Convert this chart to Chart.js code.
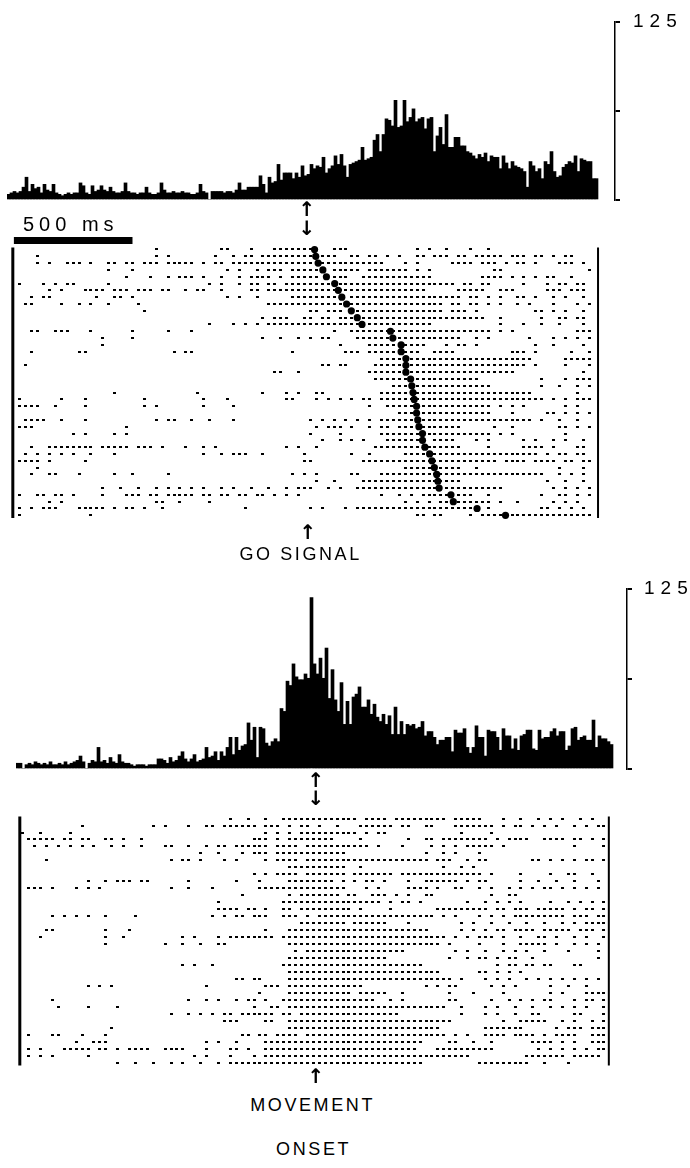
<!DOCTYPE html>
<html><head><meta charset="utf-8">
<script src="https://cdn.jsdelivr.net/npm/chart.js@4/dist/chart.umd.min.js"></script>
<style>
html,body{margin:0;padding:0;background:#fff;}
body{width:690px;height:1168px;position:relative;overflow:hidden;font-family:"Liberation Sans",Arial,sans-serif;color:#000;}
canvas{position:absolute;left:0;}
.lbl{position:absolute;white-space:nowrap;line-height:1;}
.ctr{width:240px;text-align:center;}
.arr{position:absolute;width:24px;text-align:center;font-family:"DejaVu Sans";font-weight:bold;font-size:20px;line-height:20px;}
</style></head><body>
<canvas id="histGo" width="690" height="230" style="top:-4px"></canvas>
<canvas id="rasterGo" width="690" height="305" style="top:226px"></canvas>
<canvas id="histMove" width="690" height="232" style="top:563px"></canvas>
<canvas id="rasterMove" width="690" height="272" style="top:800px"></canvas>
<div id="lblBar" class="lbl" style="left:23px;top:214px;font-size:20px;letter-spacing:5px;"></div>
<div id="lblGo" class="lbl ctr" style="left:178px;top:545px;font-size:18px;letter-spacing:2.6px;padding-left:2.6px;"></div>
<div id="lblMove1" class="lbl ctr" style="left:190px;top:1096px;font-size:18px;letter-spacing:2.6px;padding-left:2.6px;"></div>
<div id="lblMove2" class="lbl ctr" style="left:191px;top:1140px;font-size:18px;letter-spacing:2.6px;padding-left:2.6px;"></div>
<div class="arr" style="left:295px;top:199px">↑</div>
<div class="arr" style="left:295px;top:218px">↓</div>
<div class="arr" style="left:296px;top:522px">↑</div>
<div class="arr" style="left:304px;top:770px">↑</div>
<div class="arr" style="left:304px;top:788px">↓</div>
<div class="arr" style="left:304px;top:1066px">↑</div>
<script>
// ---------- data ----------
const binMs = 12.5;            // histogram bin width
const histStartMs = -1250;     // first bin start, relative to event
const cellMs = 25;             // raster cell width
const rasterStartMs = -1250;
const scaleTicks = [0, 62.5, 125];
const scaleMax = 125;
const scaleBarMs = [-1237.5, -737.5];
const scaleBarText = '500 ms';
const goText = 'GO SIGNAL';
const moveText = ['MOVEMENT', 'ONSET'];
const goFrameMs = [-1242, 1225];
const moveFrameMs = [-1250, 1233];

const histGoCounts = [
4,5,6,5,6,9,16,6,11,8, 9,5,11,7,6,11,5,4,3,4, 5,4,5,5,12,10,5,4,10,6, 7,10,7,6,9,6,5,5,6,12,
6,5,5,4,5,5,9,5,4,4, 5,12,7,5,5,6,5,5,6,5, 5,4,4,5,11,6,5,0,6,6, 6,6,5,6,6,5,7,12,7,7,
9,9,9,9,17,11,5,16,12,13, 25,14,19,19,19,15,19,16,24,17, 18,25,22,24,23,30,19,22,24,31,
25,32,24,16,25,26,27,28,37,28, 29,30,42,46,34,46,57,56,52,70, 51,52,70,55,58,64,55,57,58,50,
57,58,34,45,51,39,60,37,37,44, 44,38,38,34,33,31,29,32,30,33, 27,31,30,30,22,31,26,22,27,24,
23,22,20,9,27,24,20,22,15,27, 25,34,20,16,17,23,25,27,26,31, 20,29,28,27,27,15,15];

const histMoveCounts = [
4,4,0,3,4,3,5,4,3,4, 3,5,3,3,4,3,5,3,4,5, 6,9,5,0,4,6,5,15,5,6, 4,8,5,4,10,5,4,4,3,2,
3,3,3,2,3,3,3,7,7,6, 4,8,5,6,9,12,7,5,7,10, 5,6,7,15,8,9,12,6,12,9, 15,22,10,22,13,16,17,32,20,29,
8,29,28,18,16,19,21,19,42,40, 61,58,73,64,62,62,66,63,119,73, 66,77,63,84,49,69,48,40,60,31,
47,31,50,52,57,43,43,48,38,45, 36,33,38,31,37,24,43,24,33,24, 31,30,31,28,29,33,23,26,26,22,
17,20,20,22,22,12,27,25,25,28, 15,11,15,30,22,22,9,27,26,26, 22,13,28,23,23,14,21,13,23,24,
27,27,14,13,27,21,22,22,26,28, 23,26,26,13,16,28,29,20,22,23, 20,20,34,15,23,21,21,19,17];

const moveOnsetMs = [30,35,45,65,80,115,130,145,165,185,210,230,350,360,395,395,415,415,415,435,
440,445,450,460,460,465,470,485,485,495,515,525,535,545,550,555,605,615,715,835];

const rasterGoRows = [
"0000000000 0000000000 0000100000 0000011000 1000111111 1000111000 0000000010 1001000100 1000000000 00000000",
"0000100000 0000000000 0000101000 0000100101 1011111111 1011100110 1101010011 0111011011 1110111011 01011000",
"0000101001 1101001101 1011101111 1010110111 1111111111 1011111111 1110001010 0000111101 1101011010 00111010",
"0000000000 0000001000 1000000000 0000001010 0101110111 1100111110 1111111010 1000000000 0110000000 00000001",
"0000000000 0000000001 0001001011 1010010010 1111010111 1100111001 1111111111 1000000001 1110101010 11001000",
"0100010101 1000001000 0000000000 0001010010 1101101111 1111111111 1111111111 1111101101 1000001000 10110110",
"0000001010 0011110111 0111011001 0110010000 1101111111 1111111111 1111111111 0000011111 0011100000 11101110",
"0001011000 0000100110 1000000000 0000001010 0100000111 1111110111 1111111111 1111110110 1010011010 01010010",
"0011000010 0101001000 0100000000 0000000000 0001111111 1111111111 1111111111 1110110110 1010010100 01000101",
"0000000000 0000000000 0010000000 0000000000 0000000000 1101110011 1111111111 1110111010 0000000011 01010010",
"0000000000 0000000000 0000000000 0000000000 0010111001 1011011101 1111111111 1111111111 0010000001 00110110",
"0000000000 0000000000 0000000000 0001000101 0101111111 1111111111 1111111111 1000000000 0010001001 00100010",
"0001100111 0001000000 1000001000 1000000000 0000000000 0000100111 1111111111 1111111111 1010100000 00000111",
"0000000000 0000010000 1000000000 0000000000 0010010010 1011000011 1111111111 1111110010 1000000100 01010101",
"0000000000 0000010000 0000000000 0000000000 0000000000 0000010000 1111111111 0001011010 0000000010 01000010",
"0001000000 0110000000 0000000101 1000000000 0000000100 0000001110 1111111110 0111100000 0000111010 00001001",
"0000000000 0000000000 0000000000 0000000000 0000000000 0000000000 0011111111 1111111111 1111111100 00011111",
"0010000000 0000000000 0000000000 0000000000 0000000000 0011011000 0111111111 1111111111 1111111010 00010001",
"0000000000 0000000000 0000000000 0000000000 0000110010 0000000000 1111111111 1111111111 1111100000 00000010",
"0000000000 0000000000 0000000000 0000000000 0000000000 0000000000 0111111111 1111111110 0000000001 00010111",
"0000000000 0000000000 0000000000 0000000000 0000000000 0000000000 0000111111 1111111111 1000000001 00100101",
"0000000000 0000000100 0000000000 0100000000 0010001010 0110000000 0011111111 1111111111 1111111100 00000100",
"0100000010 0010000000 0010000000 0010001000 0000001100 0101010101 1011111111 1111111111 1111111111 01010111",
"0111100100 0010000000 0010100000 0010000100 0000000000 0000000000 1001111111 1111111111 1010101000 00010100",
"0000000000 0000000000 0000000000 0000000000 0000000000 0000000000 0000011111 1111111111 1000100000 11010101",
"0011110010 0010000000 0000101100 1001000100 0000000000 1010101010 1011111111 1111111111 1111111101 00100100",
"0111000000 0000000001 0000000000 0000000000 0000000000 0101110100 1011011111 1111110000 0100100000 00110101",
"0000000000 1010000101 0000000000 0000000000 0000000000 1000010000 0011111111 1111111111 1010100000 00010000",
"0000000000 0000000000 0000000000 0000000000 0000000000 0010010101 0001111111 0111100010 1000001010 01010010",
"0001001111 1111011111 0111010001 0010100000 0000001010 0100000000 0111111111 1111110000 1000001111 01000110",
"0010101010 1001000100 0000000000 0010010111 0010000001 0000000100 1000001111 1111111111 1111111110 10110110",
"0111101000 0010000000 0000000000 0000000000 0000000001 1000000001 1111111111 1111111111 1101111011 11011011",
"0000100000 0000000000 0000000000 0000000000 0000000000 0000000000 0000001111 1111110010 0000000000 00100010",
"0001001100 0100000100 1000001000 0000000000 0000000101 0100000110 0011111111 1111111111 1111111111 00101010",
"0000000000 0000000000 0000000000 0000000000 0000000000 0100100001 1111111111 1111110000 0000000000 10010010",
"0000000000 0000010010 0100101010 1010010100 1001001011 1001010011 1111111111 1111111111 1110000000 01010101",
"0100110110 1000010001 1101101111 1011011011 0110101010 0000000000 0010010101 1111011100 1000000001 00110101",
"0000001010 0000000000 0000110010 0001000000 0000000000 0000000000 0000001010 1011111111 1010010000 01010100",
"0101011100 0111110101 1010010000 0000000001 0000000000 1010001011 1111111111 1111111110 1000000001 10101010",
"0100000000 0001000000 0000000000 0000000000 0000000000 0000000000 0000000011 0110000101 1110111111 11111111"];

const rasterMoveRows = [
"0000000000 0000000000 0000000000 0000010010 0100111111 1111111011 1101111111 1101111100 0100100101 010010100",
"0000000000 1000000000 0010100010 0110111111 0111010110 1001000111 1110110011 0001111111 0101101010 100101011",
"1001000010 0000000000 0000000000 0000000000 0101010111 1111111010 1100000000 0000100001 0000000000 000000000",
"0111110110 1100110100 1000000000 0000000001 1101011111 1110000100 0000010011 0111111110 1011110011 110110101",
"0010101010 1010010100 1000110010 0101101111 1101111011 1111111110 1000100001 0101011111 0100000000 000100001",
"0000000000 0000000000 0000000000 1001000101 1101111111 1111100000 0000000010 0101000100 0000000000 000000000",
"0000100000 0000000000 0000010110 1000101000 0101111011 1111111111 1111111110 1110010110 0000001101 010101101",
"0000000000 0000000000 0000000000 0000000000 0000011111 1111100100 0000000000 0100101000 0000000000 000000000",
"0000000000 0000000000 0000000000 0000000001 0101111011 1111101111 1110111111 1111111101 0000100001 001100100",
"0000000000 0100101110 1100000010 0000001000 1000011111 1110101011 0100010011 1111010110 0000100100 100100010",
"0111010001 0101000000 0000010010 0010000000 1111111111 1111100010 1000011110 1001100101 0010101011 010101010",
"0000000000 0000000000 0000000000 0000000100 0000010111 1111011001 1101010011 0000000001 0011000000 000000000",
"0000000000 0000000000 0000000000 0001000000 0000111111 1111111111 1010110100 0000010010 1010100001 001010101",
"0000000000 0000000000 0000000000 0001111011 0100110111 1111110100 0010000000 1111111110 1101110111 110101101",
"0000010101 0100100001 0000000000 0010101101 1100111010 1111111111 1111111111 0101000101 0101111111 110111011",
"0000000000 0000000000 0000000000 0000000000 0000000111 1111101111 1100010000 0000101001 0010010010 010101111",
"0000110000 0000100010 0000000000 0000000000 0100011111 1111111111 1111111110 0000101010 1101111011 111011101",
"0001000000 0000100100 0000000101 0001011111 1110111111 1111111111 1111111111 1101010111 0100100110 100101001",
"0000000000 0000100000 0000100100 1001100000 0000011111 1111111111 1111111111 1010000100 0100111110 100101010",
"0000000000 0000000000 0000000000 0000000000 0000001011 1111111111 1111100000 0001010010 0101010010 001000010",
"0000000000 0000000000 0000000000 0000000000 0000011111 1111111111 1100000000 0010010110 1011001000 000000010",
"0000000000 0000000000 0000000101 0010000000 0000111111 1111111111 1111111100 0000000000 1011011011 000110000",
"0000000000 0000000000 0000000000 0000000000 0000011111 1111111111 1111111111 1000000110 1010100000 000000000",
"0000000000 0000000000 0000000000 0000001101 1000011111 1111111111 1111111111 1110100010 1010010101 010101010",
"0000000000 0101010000 0000000000 0100000000 0111011111 1111111100 0000000010 1011000001 0101000001 001001000",
"0000000000 0000000000 0000000000 0000000000 1000011111 1111110111 1100100000 0010001000 0100000001 010001111",
"0000010000 0000000000 0000000010 0101001011 0100111111 1111111111 0010100000 0011000001 0010101011 000101101",
"0000001000 0100001000 0000000000 0000000001 0011011111 1111111111 1111111111 1100100010 1001001001 010101001",
"0000000000 0000000000 0000010010 1010110111 1110110111 1111111111 1111000000 0000100010 1001001100 000110001",
"0000000000 0000000000 0000000000 0000111000 0110011111 1111111111 1111111111 1110000000 0100111110 010100101",
"0000000000 0000010000 0000000000 0000000000 0000011111 1111111111 1111111111 1000000011 1111100000 101110111",
"0100011000 1000100000 0000000000 0000000110 1101111011 1111111111 1111111111 1101010011 1101111010 111100111",
"0000000001 0011100000 0000000000 0101001000 0111111111 1111111111 1111111100 0011001001 0000001111 010100111",
"0101000111 1101101011 1100111100 0100011010 0111111111 1111111111 1111111000 1111111111 0000000101 010101011",
"0101010000 0100000000 0000000001 0100010001 0111111111 1111111111 1111111111 1111110000 0000011111 110111110",
"0000000000 0000001001 0010010100 1001011111 1111111111 1111111111 1111111100 0000000111 1111110010 001000000"];

// ---------- layout (pixels) ----------
const pxPerMs = 0.24;
const L = {
  histGo:   {padLeft:7,  padTop:26, padBottom:26, axisW:75, lblPad:13, xMax:-1250 + 608/0.24},
  histMove: {padLeft:16, padTop:26, padBottom:26, axisW:63, lblPad:12, xMax:-1250 + 611/0.24},
  rasterGo:   {zeroPx:307, rowTop:20, rowStep:7.0,  h:305, barRow:-1.3},
  rasterMove: {zeroPx:316, rowTop:15, rowStep:7.19, h:272}
};

document.getElementById('lblBar').textContent = scaleBarText;
document.getElementById('lblGo').textContent = goText;
document.getElementById('lblMove1').textContent = moveText[0];
document.getElementById('lblMove2').textContent = moveText[1];

Chart.defaults.font.family = '"Liberation Sans", Arial, sans-serif';
Chart.defaults.color = '#000';

// small dash-shaped point style for raster ticks
const dotStyle = document.createElement('canvas');
dotStyle.width = 3; dotStyle.height = 2;
(function(){ const g = dotStyle.getContext('2d'); g.fillStyle = '#000'; g.fillRect(0, 0, 3, 2); })();

function histChart(id, counts, o) {
  const data = counts.map((v, i) => ({x: histStartMs + binMs * (i + 0.5), y: v}));
  return new Chart(document.getElementById(id), {
    type: 'bar',
    data: {datasets: [{data, backgroundColor: '#000', borderWidth: 0, barPercentage: 1, categoryPercentage: 1}]},
    options: {
      responsive: false, animation: false,
      layout: {padding: {left: o.padLeft, top: o.padTop, bottom: o.padBottom, right: 0}},
      plugins: {legend: {display: false}, tooltip: {enabled: false}},
      scales: {
        x: {type: 'linear', display: false, min: histStartMs, max: o.xMax, offset: false},
        y: {
          position: 'right', min: 0, max: scaleMax,
          afterBuildTicks: s => { s.ticks = scaleTicks.map(v => ({value: v})); },
          afterFit: s => { s.width = o.axisW; },
          border: {display: true, color: '#000', width: 1.5, dash: [1.5, 1.5]},
          grid: {drawOnChartArea: false, drawTicks: true, tickLength: 5, color: '#000', lineWidth: 2},
          ticks: {padding: o.lblPad, color: '#000', font: {size: 19}, autoSkip: false,
                  callback: v => (v === scaleMax ? String(scaleMax) : '')}
        }
      }
    },
    plugins: [{id: 'spacing', beforeDraw(c) { c.ctx.letterSpacing = '6px'; }}]
  });
}

function spikes(rows) {
  const pts = [];
  rows.forEach((r, k) => {
    const s = r.replace(/\s+/g, '');
    for (let c = 0; c < s.length; c++) {
      const n = +s[c];
      if (n === 1) pts.push({x: rasterStartMs + cellMs * c + cellMs / 2, y: k});
      else if (n === 2) {
        pts.push({x: rasterStartMs + cellMs * c + cellMs / 4, y: k});
        pts.push({x: rasterStartMs + cellMs * c + 3 * cellMs / 4, y: k});
      }
    }
  });
  return pts;
}

function rasterChart(id, rows, frameMs, o, extra) {
  const cv = document.getElementById(id);
  const W = cv.width;
  const n = rows.length;
  const fTop = -0.3, fBot = n - 0.6;
  const line = (pts, w) => ({data: pts, showLine: true, borderColor: '#000', borderWidth: w,
                             pointRadius: 0, borderCapStyle: 'butt', fill: false});
  const datasets = [
    {data: spikes(rows), pointStyle: dotStyle, pointRadius: 1.5, backgroundColor: '#000', borderWidth: 0},
    line([{x: frameMs[0], y: fTop}, {x: frameMs[0], y: fBot}], 3),
    line([{x: frameMs[1], y: fTop}, {x: frameMs[1], y: fBot}], 2)
  ].concat(extra(line));
  return new Chart(cv, {
    type: 'scatter',
    data: {datasets},
    options: {
      responsive: false, animation: false,
      layout: {padding: 0},
      plugins: {legend: {display: false}, tooltip: {enabled: false}},
      scales: {
        x: {type: 'linear', display: false, min: -o.zeroPx / pxPerMs, max: (W - o.zeroPx) / pxPerMs},
        y: {type: 'linear', display: false, reverse: true,
            min: -o.rowTop / o.rowStep, max: (o.h - o.rowTop) / o.rowStep}
      }
    }
  });
}

histChart('histGo', histGoCounts, L.histGo);
histChart('histMove', histMoveCounts, L.histMove);

rasterChart('rasterGo', rasterGoRows, goFrameMs, L.rasterGo, line => [
  {data: moveOnsetMs.map((t, k) => ({x: t, y: k})), pointStyle: 'circle', pointRadius: 3.6,
   backgroundColor: '#000', borderWidth: 0},
  line([{x: scaleBarMs[0], y: L.rasterGo.barRow}, {x: scaleBarMs[1], y: L.rasterGo.barRow}], 7)
]);
rasterChart('rasterMove', rasterMoveRows, moveFrameMs, L.rasterMove, () => []);
</script>
</body></html>
